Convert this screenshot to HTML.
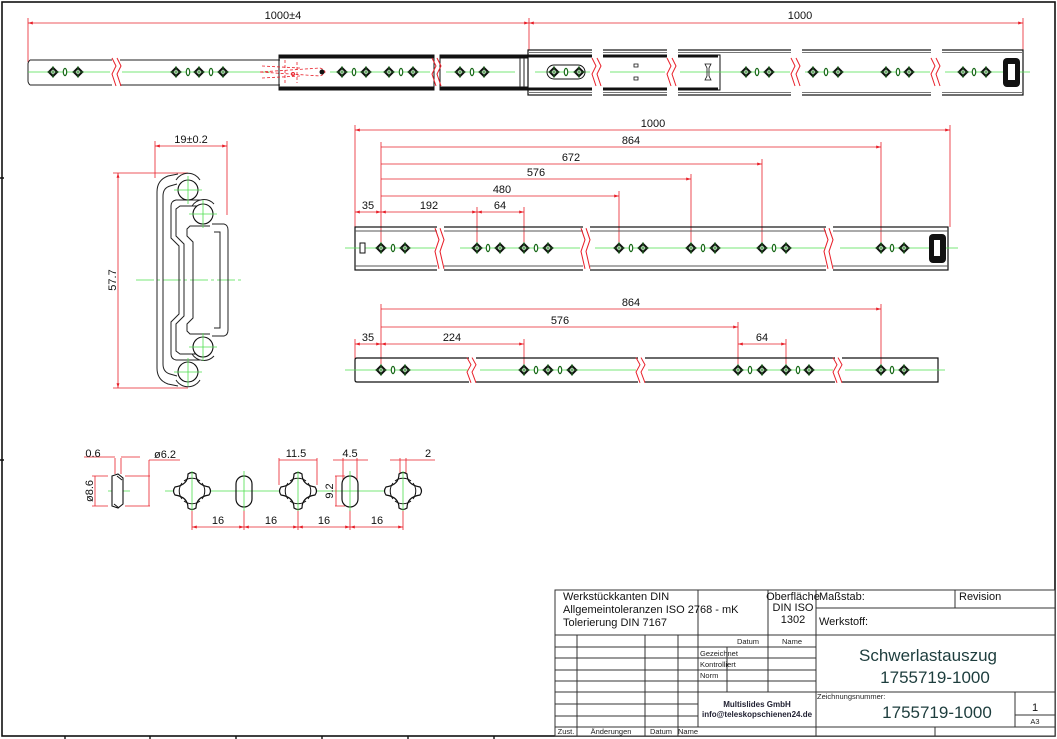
<!DOCTYPE html>
<html><head><meta charset="utf-8"><style>
html,body{margin:0;padding:0;background:#fff;width:1057px;height:739px;overflow:hidden}
svg{display:block}
.t{font-family:"Liberation Sans",sans-serif;font-size:11px;fill:#111}
.s{font-family:"Liberation Sans",sans-serif;font-size:7.5px;fill:#222}
.r{stroke:#e8202a;stroke-width:0.8;fill:none}
.g{stroke:#4fe04f;stroke-width:0.8;fill:none}
.k{stroke:#222;stroke-width:1;fill:none}
.tb{stroke:#333;stroke-width:1;fill:none}
</style></head><body>
<svg width="1057" height="739" viewBox="0 0 1057 739" xmlns="http://www.w3.org/2000/svg">
<defs>
<marker id="a" viewBox="0 0 10 10" refX="10" refY="5" markerWidth="6" markerHeight="6" orient="auto-start-reverse"><path d="M0,2 L10,5 L0,8Z" fill="#e8202a"/></marker>
<g id="d"><path d="M0,-4.2 L4.2,0 L0,4.2 L-4.2,0Z" fill="#fff" stroke="#111" stroke-width="2"/><path d="M0,-6 V6 M-6,0 H6" stroke="#1a7a1a" stroke-width="0.8"/></g>
<g id="o"><ellipse cx="0" cy="0" rx="1.7" ry="3.6" fill="#fff" stroke="#1a6a1a" stroke-width="1.2"/></g>
<g id="br"><path d="M-2,-14 L2,-6 L-2,2 L2,14" stroke="#e8202a" stroke-width="1" fill="none"/><path d="M3,-14 L7,-6 L3,2 L7,14" stroke="#e8202a" stroke-width="1" fill="none"/></g>
<g id="X"><path d="M-4,-17 Q-4,-6 -17,-4 Q-20,0 -17,4 Q-4,6 -4,17 Q0,20 4,17 Q4,6 17,4 Q20,0 17,-4 Q4,-6 4,-17 Q0,-20 -4,-17Z" fill="#fff" stroke="#111" stroke-width="1.2"/><path d="M-8,-10 A13,13 0 0 1 8,-10 M10,-8 A13,13 0 0 1 10,8 M8,10 A13,13 0 0 1 -8,10 M-10,8 A13,13 0 0 1 -10,-8" stroke="#111" stroke-width="1" fill="none"/></g>
</defs>

<rect x="2" y="2" width="1053" height="734" fill="none" stroke="#111" stroke-width="1.6"/>
<g stroke="#111" stroke-width="1.4"><path d="M65,736 v3 M150,736 v3 M236,736 v3 M322,736 v3 M408,736 v3 M494,736 v3 M0,178 h4 M0,460 h4"/></g>

<line x1="28" y1="23" x2="529" y2="23" class="r" marker-start="url(#a)" marker-end="url(#a)"/>
<line x1="529" y1="23" x2="1023" y2="23" class="r" marker-start="url(#a)" marker-end="url(#a)"/>
<path d="M28,18 V62 M529,18 V50 M1023,18 V50" class="r"/>
<text x="283" y="19" class="t" text-anchor="middle">1000±4</text>
<text x="800" y="19" class="t" text-anchor="middle">1000</text>
<path d="M30,60 H112 M30,85 H112 M30,60 Q28,62 28,64 V81 Q28,83 30,85" class="k"/>
<path d="M120,60 H280 M120,85 H280" class="k"/>
<use href="#br" x="114" y="72"/>
<rect x="279" y="55" width="155" height="35" fill="none" stroke="#111"/>
<rect x="279" y="55" width="155" height="3.5" fill="#111"/><rect x="279" y="86.5" width="155" height="3.5" fill="#111"/>
<rect x="440" y="55" width="280" height="35" fill="none" stroke="#111"/>
<rect x="440" y="55" width="88" height="3.5" fill="#111"/><rect x="440" y="86.5" width="88" height="3.5" fill="#111"/>
<use href="#br" x="434" y="72"/>
<rect x="528" y="50" width="495" height="45" fill="none" stroke="#111" stroke-width="1.2"/>
<path d="M528,52.5 H1023 M528,92.5 H1023" stroke="#777" stroke-width="1"/>
<rect x="528" y="55" width="190" height="2.5" fill="#111"/><rect x="528" y="87.5" width="190" height="2.5" fill="#111"/>
<path d="M520,58 V87 M524,58 V87" class="k"/>
<g fill="#fff" stroke="none"><rect x="592" y="48" width="11" height="50"/><rect x="667" y="48" width="11" height="50"/><rect x="791" y="48" width="11" height="50"/><rect x="931" y="48" width="11" height="50"/></g>
<use href="#br" x="594" y="72"/><use href="#br" x="669" y="72"/><use href="#br" x="793" y="72"/><use href="#br" x="933" y="72"/>
<path d="M28,72 H110 M122,72 H270 M330,72 H430 M446,72 H515 M535,72 H590 M610,72 H665 M680,72 H790 M805,72 H930 M945,72 H1030" class="g"/>
<rect x="547" y="65" width="38" height="14" rx="7" fill="none" stroke="#111"/>
<path d="M634,64 h4 v3 h-4z M634,77 h4 v3 h-4z" fill="none" stroke="#111" stroke-width="0.8"/>
<path d="M705,64 h6 l-2,4 v8 l2,4 h-6 l2,-4 v-8z" fill="none" stroke="#111" stroke-width="0.8"/>
<path d="M260,72 L320,68 Q330,72 320,76 Z M262,66 L300,68 M262,78 L300,76 M285,60 V85 M297,62 V83" stroke="#e8202a" stroke-width="0.8" fill="none" stroke-dasharray="3,2"/>
<circle cx="322" cy="72" r="2.5" fill="#111"/><circle cx="293" cy="74" r="1.5" fill="none" stroke="#e8202a"/>
<rect x="1003" y="58" width="17" height="29" rx="4" fill="#111"/><rect x="1008" y="64" width="7" height="16" fill="#fff"/>
<g>
<use href="#d" x="53" y="72"/><use href="#o" x="65" y="72"/><use href="#d" x="78" y="72"/>
<use href="#d" x="176" y="72"/><use href="#o" x="188" y="72"/><use href="#d" x="199" y="72"/><use href="#o" x="211" y="72"/><use href="#d" x="223" y="72"/>
<use href="#d" x="342" y="72"/><use href="#o" x="354" y="72"/><use href="#d" x="366" y="72"/>
<use href="#d" x="389" y="72"/><use href="#o" x="401" y="72"/><use href="#d" x="413" y="72"/>
<use href="#d" x="460" y="72"/><use href="#o" x="472" y="72"/><use href="#d" x="484" y="72"/>
<use href="#d" x="554" y="72"/><use href="#o" x="566" y="72"/><use href="#d" x="579" y="72"/>
<use href="#d" x="746" y="72"/><use href="#o" x="757" y="72"/><use href="#d" x="769" y="72"/>
<use href="#d" x="813" y="72"/><use href="#o" x="826" y="72"/><use href="#d" x="838" y="72"/>
<use href="#d" x="886" y="72"/><use href="#o" x="898" y="72"/><use href="#d" x="909" y="72"/>
<use href="#d" x="963" y="72"/><use href="#o" x="974" y="72"/><use href="#d" x="986" y="72"/>
</g>

<g class="r">
<line x1="355" y1="130" x2="950" y2="130" marker-start="url(#a)" marker-end="url(#a)"/>
<line x1="381" y1="147" x2="881" y2="147" marker-end="url(#a)"/>
<line x1="381" y1="164" x2="762" y2="164" marker-end="url(#a)"/>
<line x1="381" y1="179" x2="691" y2="179" marker-end="url(#a)"/>
<line x1="381" y1="196" x2="619" y2="196" marker-end="url(#a)"/>
<line x1="355" y1="212" x2="381" y2="212" marker-start="url(#a)" marker-end="url(#a)"/>
<line x1="381" y1="212" x2="477" y2="212" marker-start="url(#a)" marker-end="url(#a)"/>
<line x1="477" y1="212" x2="524" y2="212" marker-start="url(#a)" marker-end="url(#a)"/>
<path d="M355,125 V227 M950,125 V227 M381,142 V248 M881,142 V248 M762,159 V248 M691,174 V248 M619,191 V248 M477,207 V248 M524,207 V248"/>
</g>
<text x="653" y="127" class="t" text-anchor="middle">1000</text>
<text x="631" y="144" class="t" text-anchor="middle">864</text>
<text x="571" y="161" class="t" text-anchor="middle">672</text>
<text x="536" y="176" class="t" text-anchor="middle">576</text>
<text x="502" y="193" class="t" text-anchor="middle">480</text>
<text x="368" y="209" class="t" text-anchor="middle">35</text>
<text x="429" y="209" class="t" text-anchor="middle">192</text>
<text x="500" y="209" class="t" text-anchor="middle">64</text>
<rect x="355" y="227" width="593" height="43" fill="none" stroke="#111" stroke-width="1.2"/>
<path d="M355,231 H948 M355,266 H948" stroke="#555" stroke-width="1"/>
<g fill="#fff"><rect x="437" y="225" width="7" height="47"/><rect x="583" y="225" width="7" height="47"/><rect x="826" y="225" width="7" height="47"/></g>
<g transform="translate(0,176) scale(1,1.45)" ><use href="#br" x="437" y="50"/><use href="#br" x="583" y="50"/><use href="#br" x="826" y="50"/></g>
<path d="M345,248 H435 M460,248 H580 M595,248 H825 M840,248 H958" class="g"/>
<rect x="360" y="243" width="5" height="10" fill="#fff" stroke="#111"/>
<rect x="929" y="234" width="17" height="29" rx="4" fill="#111"/><rect x="934" y="240" width="6" height="16" fill="#fff"/>
<g>
<use href="#d" x="381" y="248"/><use href="#o" x="393" y="248"/><use href="#d" x="405" y="248"/>
<use href="#d" x="477" y="248"/><use href="#o" x="488" y="248"/><use href="#d" x="500" y="248"/>
<use href="#d" x="524" y="248"/><use href="#o" x="536" y="248"/><use href="#d" x="548" y="248"/>
<use href="#d" x="619" y="248"/><use href="#o" x="631" y="248"/><use href="#d" x="643" y="248"/>
<use href="#d" x="691" y="248"/><use href="#o" x="703" y="248"/><use href="#d" x="715" y="248"/>
<use href="#d" x="762" y="248"/><use href="#o" x="774" y="248"/><use href="#d" x="786" y="248"/>
<use href="#d" x="881" y="248"/><use href="#o" x="892" y="248"/><use href="#d" x="904" y="248"/>
</g>

<g class="r">
<line x1="381" y1="309" x2="881" y2="309" marker-end="url(#a)"/>
<line x1="381" y1="327" x2="738" y2="327" marker-end="url(#a)"/>
<line x1="355" y1="344" x2="381" y2="344" marker-start="url(#a)" marker-end="url(#a)"/>
<line x1="381" y1="344" x2="524" y2="344" marker-start="url(#a)" marker-end="url(#a)"/>
<line x1="738" y1="344" x2="786" y2="344" marker-start="url(#a)" marker-end="url(#a)"/>
<path d="M355,339 V360 M381,304 V370 M881,304 V370 M738,322 V370 M524,339 V370 M786,339 V370"/>
</g>
<text x="631" y="306" class="t" text-anchor="middle">864</text>
<text x="560" y="324" class="t" text-anchor="middle">576</text>
<text x="368" y="341" class="t" text-anchor="middle">35</text>
<text x="452" y="341" class="t" text-anchor="middle">224</text>
<text x="762" y="341" class="t" text-anchor="middle">64</text>
<path d="M357,358 H938 V382 H357 Q355,382 355,380 V360 Q355,358 357,358Z" fill="none" stroke="#111" stroke-width="1.2"/>
<g fill="#fff"><rect x="469" y="356" width="7" height="28"/><rect x="638" y="356" width="7" height="28"/><rect x="835" y="356" width="7" height="28"/></g>
<g transform="translate(0,282) scale(1,0.9)"><use href="#br" x="469" y="98"/><use href="#br" x="638" y="98"/><use href="#br" x="835" y="98"/></g>
<path d="M345,370 H468 M480,370 H636 M648,370 H833 M845,370 H945" class="g"/>
<g>
<use href="#d" x="381" y="370"/><use href="#o" x="393" y="370"/><use href="#d" x="405" y="370"/>
<use href="#d" x="524" y="370"/><use href="#o" x="536" y="370"/><use href="#d" x="548" y="370"/><use href="#o" x="560" y="370"/><use href="#d" x="572" y="370"/>
<use href="#d" x="738" y="370"/><use href="#o" x="750" y="370"/><use href="#d" x="762" y="370"/>
<use href="#d" x="786" y="370"/><use href="#o" x="798" y="370"/><use href="#d" x="809" y="370"/>
<use href="#d" x="881" y="370"/><use href="#o" x="892" y="370"/><use href="#d" x="904" y="370"/>
</g>

<g class="r">
<line x1="155" y1="146" x2="227" y2="146" marker-start="url(#a)" marker-end="url(#a)"/>
<path d="M155,141 V178 M227,141 V215"/>
<line x1="118" y1="173" x2="118" y2="388" marker-start="url(#a)" marker-end="url(#a)"/>
<path d="M113,173 H188 M113,388 H188"/>
</g>
<text x="191" y="143" class="t" text-anchor="middle">19±0.2</text>
<text x="116" y="280" class="t" text-anchor="middle" transform="rotate(-90 116 280)">57.7</text>
<path d="M136,280 H243" class="g" stroke-dasharray="18,3,3,3"/>
<g class="k" stroke-width="1.1">
<path d="M178,174 L168,176 Q157,180 157,192 V368 Q157,380 168,384 L178,386"/>
<path d="M177,184 L170,186 Q163,188 163,196 V364 Q163,372 170,374 L177,376"/>
<path d="M200,200 L176,200 Q171,201 171,206 V238 L179,246 V314 L171,322 V354 Q171,359 176,360 L200,360"/>
<path d="M203,206 L180,206 L176,209 V236 L184,244 V316 L176,324 V351 L180,354 L203,354"/>
<path d="M210,226 L190,226 L187,229 V236 L193,242 V318 L187,324 V331 L190,334 L210,334"/>
<path d="M212,224 H224 Q228,225 228,230 V330 Q228,335 224,336 H212"/>
<path d="M214,232 H220 V328 H214"/>
<path d="M176,180 A14,14 0 0 1 200,180 M176,380 A14,14 0 0 0 200,380"/>
<path d="M192,206 A14,14 0 0 1 214,204 M192,354 A14,14 0 0 0 214,356"/>
</g>
<g fill="#fff" stroke="#111" stroke-width="1.1">
<circle cx="188" cy="190" r="10"/><circle cx="203" cy="214" r="10"/><circle cx="203" cy="347" r="10"/><circle cx="188" cy="372" r="10"/>
</g>
<path d="M174,190 H202 M188,176 V204 M189,214 H217 M203,200 V228 M189,347 H217 M203,333 V361 M174,372 H202 M188,358 V386" class="g"/>

<path d="M108,491 H130 M165,491 H420" class="g"/>
<path d="M112,476 L118,474 L123,478 V504 L118,508 L112,506 Z" fill="#fff" stroke="#111" stroke-width="1.1"/>
<path d="M117,476 L122,480 M114,504 L119,508" stroke="#111"/>
<g class="r">
<path d="M115,458 V474 M121,458 V474 M84,457 H115 M121,457 H140"/>
<path d="M108,476 H92 M108,506 H92 M95,476 V506"/>
<path d="M125,476 H150 M125,506 H150 M149,460 V506 M149,460 H180"/>
<path d="M192,510 V530 M244,510 V530 M298,510 V530 M350,510 V530 M403,510 V530"/>
<line x1="192" y1="527" x2="244" y2="527" marker-start="url(#a)" marker-end="url(#a)"/>
<line x1="244" y1="527" x2="298" y2="527" marker-start="url(#a)" marker-end="url(#a)"/>
<line x1="298" y1="527" x2="350" y2="527" marker-start="url(#a)" marker-end="url(#a)"/>
<line x1="350" y1="527" x2="403" y2="527" marker-start="url(#a)" marker-end="url(#a)"/>
<path d="M279,458 V485 M317,458 V485 M279,460 H317"/>
<path d="M343,458 V480 M357,458 V480 M333,460 H368"/>
<path d="M400,458 V476 M406,458 V476 M390,460 H435"/>
<path d="M335,476 H345 M335,506 H345 M336,476 V506"/>
</g>
<use href="#X" x="192" y="491"/><use href="#X" x="298" y="491"/><use href="#X" x="403" y="491"/>
<rect x="236" y="476" width="16" height="31" rx="8" fill="none" stroke="#111" stroke-width="1.2"/>
<rect x="342" y="476" width="16" height="31" rx="8" fill="none" stroke="#111" stroke-width="1.2"/>
<path d="M192,471 V511 M298,471 V511 M403,471 V511 M244,471 V511 M350,471 V511" class="g"/>
<text x="93" y="457" class="t" text-anchor="middle" font-size="12">0.6</text>
<text x="165" y="458" class="t" text-anchor="middle" font-size="12">ø6.2</text>
<text x="93" y="491" class="t" text-anchor="middle" font-size="12" transform="rotate(-90 93 491)">ø8.6</text>
<text x="296" y="457" class="t" text-anchor="middle" font-size="12">11.5</text>
<text x="350" y="457" class="t" text-anchor="middle" font-size="12">4.5</text>
<text x="428" y="457" class="t" text-anchor="middle" font-size="12">2</text>
<text x="333" y="491" class="t" text-anchor="middle" font-size="12" transform="rotate(-90 333 491)">9.2</text>
<text x="218" y="524" class="t" text-anchor="middle" font-size="12">16</text>
<text x="271" y="524" class="t" text-anchor="middle" font-size="12">16</text>
<text x="324" y="524" class="t" text-anchor="middle" font-size="12">16</text>
<text x="377" y="524" class="t" text-anchor="middle" font-size="12">16</text>

<g class="tb">
<rect x="555" y="590" width="500" height="146" fill="#fff"/>
<path d="M698,590 V727 M768,590 V692 M816,590 V736 M955,590 V608 M816,608 H1055 M555,635 H1055"/>
<path d="M555,647 H816 M555,658 H816 M555,670 H816 M555,681 H816 M555,692 H1055 M555,704 H698 M555,716 H698 M555,727 H1055"/>
<path d="M577,635 V736 M645,635 V736 M678,635 V736 M727,647 V692 M1015,692 V727 M1015,715 H1055 M935,727 V736"/>
</g>
<text x="563" y="600" class="t" font-size="7.5">Werkstückkanten DIN</text>
<text x="563" y="613" class="t" font-size="7.5">Allgemeintoleranzen ISO 2768 - mK</text>
<text x="563" y="626" class="t" font-size="7.5">Tolerierung DIN 7167</text>
<text x="793" y="600" class="t" font-size="7.5" text-anchor="middle">Oberfläche</text>
<text x="793" y="611" class="t" font-size="7.5" text-anchor="middle">DIN ISO</text>
<text x="793" y="623" class="t" font-size="7.5" text-anchor="middle">1302</text>
<text x="819" y="600" class="t" font-size="7.5">Maßstab:</text>
<text x="959" y="600" class="t" font-size="7.5">Revision</text>
<text x="819" y="625" class="t" font-size="12">Werkstoff:</text>
<text x="748" y="644" class="s" text-anchor="middle">Datum</text>
<text x="792" y="644" class="s" text-anchor="middle">Name</text>
<text x="700" y="656" class="s" font-size="4">Gezeichnet</text>
<text x="700" y="667" class="s" font-size="4">Kontrolliert</text>
<text x="700" y="678" class="s" font-size="4">Norm</text>
<text x="928" y="661" font-family="Liberation Sans,sans-serif" font-size="17" fill="#1d3d3d" text-anchor="middle">Schwerlastauszug</text>
<text x="935" y="683" font-family="Liberation Sans,sans-serif" font-size="17" fill="#1d3d3d" text-anchor="middle">1755719-1000</text>
<text x="817" y="699" class="s">Zeichnungsnummer:</text>
<text x="937" y="718" font-family="Liberation Sans,sans-serif" font-size="17" fill="#1d3d3d" text-anchor="middle">1755719-1000</text>
<text x="1035" y="711" class="t" font-size="17" text-anchor="middle">1</text>
<text x="1035" y="724" class="s" font-size="8" text-anchor="middle">A3</text>
<text x="757" y="707" font-family="Liberation Sans,sans-serif" font-size="8" font-weight="bold" fill="#223" text-anchor="middle">Multislides GmbH</text>
<text x="757" y="717" font-family="Liberation Sans,sans-serif" font-size="8" font-weight="bold" fill="#223" text-anchor="middle">info@teleskopschienen24.de</text>
<text x="566" y="734" class="s" font-size="5" text-anchor="middle">Zust.</text>
<text x="611" y="734" class="s" font-size="5" text-anchor="middle">Änderungen</text>
<text x="661" y="734" class="s" font-size="5" text-anchor="middle">Datum</text>
<text x="688" y="734" class="s" font-size="5" text-anchor="middle">Name</text>
</svg>
</body></html>
